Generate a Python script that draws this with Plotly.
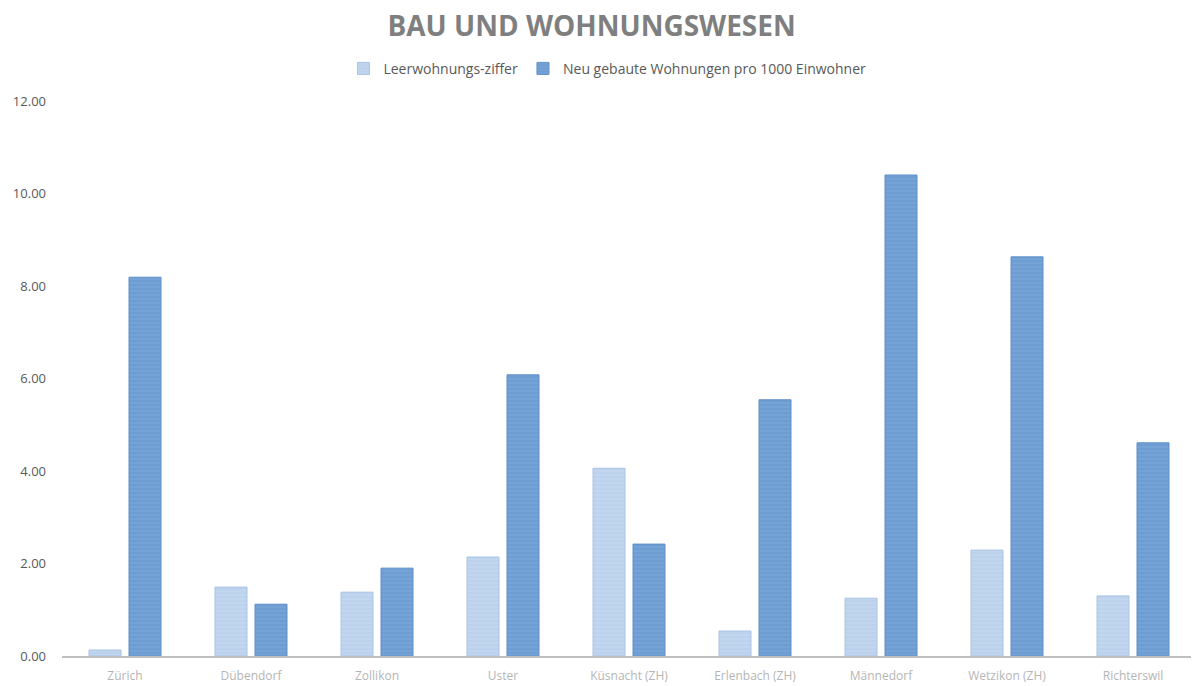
import plotly.graph_objects as go

gemeinden = ["Zürich", "Dübendorf", "Zollikon", "Uster", "Küsnacht (ZH)",
             "Erlenbach (ZH)", "Männedorf", "Wetzikon (ZH)", "Richterswil"]
leerwohnungsziffer = [0.13, 1.49, 1.38, 2.14, 4.06, 0.54, 1.25, 2.29, 1.30]
neubau_pro_1000 = [8.19, 1.12, 1.90, 6.08, 2.42, 5.54, 10.40, 8.63, 4.61]
y_ticks = [0, 2, 4, 6, 8, 10, 12]

LIGHT = "#bcd1ec"
DARK = "#6e9dd3"

fig = go.Figure()
fig.add_trace(go.Bar(
    x=gemeinden, y=leerwohnungsziffer, name="Leerwohnungs-ziffer",
    marker=dict(color=LIGHT, line=dict(color="#a9c3e6", width=1),
                pattern=dict(shape="-", fgcolor="#d3e1f3", bgcolor=LIGHT,
                             size=4, solidity=0.25)),
))
fig.add_trace(go.Bar(
    x=gemeinden, y=neubau_pro_1000, name="Neu gebaute Wohnungen pro 1000 Einwohner",
    marker=dict(color=DARK, line=dict(color="#5f8fc8", width=1),
                pattern=dict(shape="-", fgcolor="#8db3e0", bgcolor=DARK,
                             size=4, solidity=0.25)),
))

# the page body adds an 8px margin, so the figure is sized to fit inside the window
fig.update_layout(
    width=1191, height=678,
    paper_bgcolor="white", plot_bgcolor="white",
    margin=dict(l=54, r=3, t=93, b=30),
    font=dict(family="Open Sans, Noto Sans, sans-serif", color="#595959", size=13),
    title=dict(text="<b>BAU UND WOHNUNGSWESEN</b>",
               x=0.49, xanchor="center", y=0.973, yanchor="middle",
               font=dict(size=28, color="#7f7f7f", family="Open Sans, sans-serif")),
    barmode="group", bargap=0.365, bargroupgap=0.2,
    legend=dict(orientation="h", x=0.481, xanchor="center", y=1.058, yanchor="middle",
                font=dict(size=14, color="#595959"), itemwidth=30,
                traceorder="normal"),
    showlegend=True,
)
fig.update_xaxes(showline=True, linecolor="#bfbfbf", linewidth=1.5, ticks="",
                 ticklabelstandoff=8, automargin=False,
                 tickfont=dict(size=12, color="#b5b5b5"), showgrid=False)
fig.update_yaxes(range=[0, 12], tickvals=y_ticks, tickformat=".2f", showgrid=False,
                 zeroline=False, showline=False, ticks="", ticklabelstandoff=15,
                 automargin=False, tickfont=dict(size=13, color="#595959"))

fig.write_html("out.html")
